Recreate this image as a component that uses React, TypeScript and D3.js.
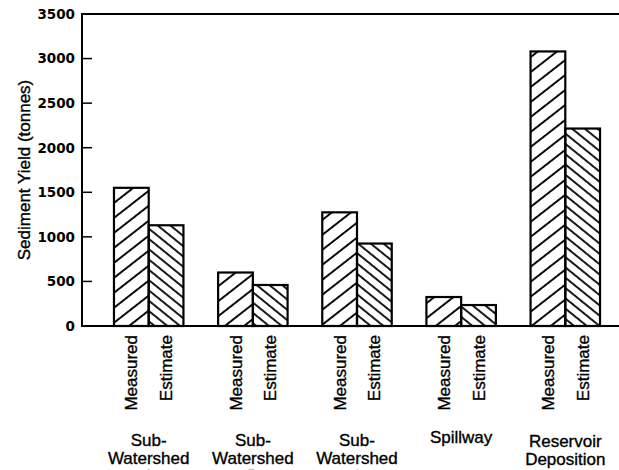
import React from "react";
import * as d3 from "d3";

const groups = ["A", "B", "C", "Spillway", "Reservoir"];
const groupLabels: string[][] = [
  ["Sub-", "Watershed", "A"],
  ["Sub-", "Watershed", "B"],
  ["Sub-", "Watershed", "C"],
  ["Spillway"],
  ["Reservoir", "Deposition"],
];
const seriesNames = ["Measured", "Estimate"];
const measured = [1550, 600, 1275, 325, 3080];
const estimate = [1130, 460, 925, 235, 2215];
const yTicks = [0, 500, 1000, 1500, 2000, 2500, 3000, 3500];
const yTitle = "Sediment Yield (tonnes)";

const W = 619;
const H = 470;
const axisX = 82;
const yTop = 14;
const yBase = 326;

export default function App() {
  const y = d3.scaleLinear().domain([0, 3500]).range([yBase, yTop]);
  const x = d3
    .scaleBand<string>()
    .domain(groups)
    .range([axisX, 632])
    .paddingInner(0.333)
    .paddingOuter(0.307);
  const xs = d3
    .scaleBand<string>()
    .domain(seriesNames)
    .range([0, x.bandwidth()])
    .padding(0);
  const values = [measured, estimate];
  const pats = ["hatchM", "hatchE"];
  const font = "'Liberation Sans', Arial, Helvetica, sans-serif";
  const txtStroke = { stroke: "#000", strokeWidth: 0.35 };

  return (
    <svg
      width={W}
      height={H}
      style={{ position: "absolute", left: 0, top: 0, background: "#fff" }}
    >
      <defs>
        <pattern
          id="hatchM"
          patternUnits="userSpaceOnUse"
          width={20}
          height={11.8}
          patternTransform="rotate(-38)"
        >
          <line x1={-2} x2={22} y1={5.9} y2={5.9} stroke="#000" strokeWidth={1.9} />
        </pattern>
        <pattern
          id="hatchE"
          patternUnits="userSpaceOnUse"
          width={20}
          height={8}
          patternTransform="rotate(39)"
        >
          <line x1={-2} x2={22} y1={4} y2={4} stroke="#000" strokeWidth={1.8} />
        </pattern>
      </defs>
      <rect x={0} y={0} width={W} height={H} fill="#fff" />

      {/* bars */}
      {groups.map((g, gi) =>
        seriesNames.map((s, si) => {
          const v = values[si][gi];
          const bx = (x(g) as number) + (xs(s) as number);
          return (
            <rect
              key={g + s}
              x={bx}
              y={y(v)}
              width={xs.bandwidth()}
              height={yBase - y(v)}
              fill={`url(#${pats[si]})`}
              stroke="#000"
              strokeWidth={2.2}
            />
          );
        })
      )}

      {/* axes */}
      <line x1={axisX} x2={W} y1={yTop} y2={yTop} stroke="#000" strokeWidth={2} />
      <line x1={axisX} x2={W} y1={yBase} y2={yBase} stroke="#000" strokeWidth={2} />
      <line x1={axisX} x2={axisX} y1={yTop - 1} y2={yBase + 1} stroke="#000" strokeWidth={2} />
      {yTicks.map((t) => (
        <g key={t}>
          <line x1={axisX} x2={axisX + 10} y1={y(t)} y2={y(t)} stroke="#000" strokeWidth={1.5} />
          <text
            x={75}
            y={y(t)}
            dy="0.36em"
            textAnchor="end"
            fontFamily="'DejaVu Sans', Verdana, sans-serif"
            fontWeight="bold"
            fontSize={13.5}
            fill="#000"
          >
            {t}
          </text>
        </g>
      ))}
      <text
        transform={`translate(24, 170) rotate(-90)`}
        textAnchor="middle"
        dy="0.35em"
        fontFamily={font}
        fontSize={17}
        fill="#000"
        {...txtStroke}
      >
        {yTitle}
      </text>

      {/* series labels under bars */}
      {groups.map((g, gi) =>
        seriesNames.map((s) => {
          const cx = (x(g) as number) + (xs(s) as number) + xs.bandwidth() / 2;
          return (
            <text
              key={g + s + "l"}
              transform={`translate(${cx}, 335) rotate(-90)`}
              textAnchor="end"
              dy="0.36em"
              fontFamily={font}
              fontSize={17}
              fill="#000"
              {...txtStroke}
            >
              {s}
            </text>
          );
        })
      )}

      {/* group labels */}
      {groups.map((g, gi) => {
        const cx = (x(g) as number) + x.bandwidth() / 2;
        const base = gi === 3 ? 443 : gi === 4 ? 447 : 445.5;
        return (
          <text
            key={g + "g"}
            textAnchor="middle"
            fontFamily={font}
            fontSize={17}
            fill="#000"
            {...txtStroke}
          >
            {groupLabels[gi].map((ln, li) => (
              <tspan key={li} x={cx} y={base + li * 18}>
                {ln}
              </tspan>
            ))}
          </text>
        );
      })}
    </svg>
  );
}
